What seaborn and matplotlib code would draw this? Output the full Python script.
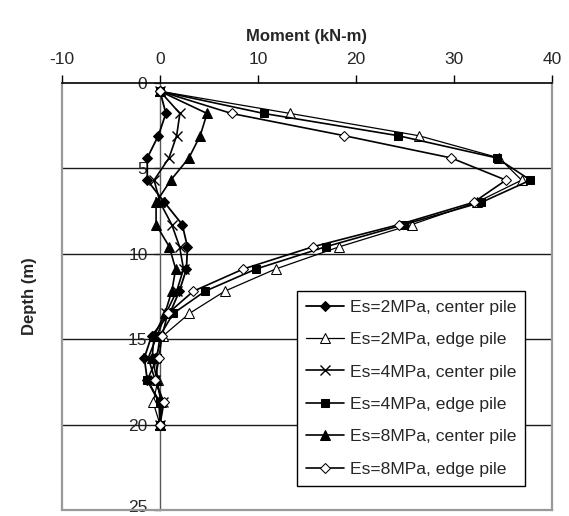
import matplotlib
matplotlib.use("Agg")
import matplotlib.pyplot as plt
import matplotlib.transforms as mtransforms
import seaborn as sns
import pandas as pd

# ---- data ----
depth = [0.5, 1.8, 3.1, 4.4, 5.7, 7.0, 8.3, 9.6, 10.9, 12.2, 13.5, 14.8, 16.1, 17.4, 18.7, 20.0]

es2_center = [0, 0.6, -0.17, -1.3, -1.3, 0.45, 2.27, 2.8, 2.7, 1.97, 1.0, -0.85, -1.6, -1.3, -0.1, 0]
es2_edge   = [0, 13.3, 26.4, 34.6, 36.9, 32.3, 25.7, 18.3, 11.8, 6.6, 3.0, 0.34, -0.5, -0.2, -0.7, 0]
es4_center = [0, 2.03, 1.7, 0.92, -0.6, 0.0, 1.2, 2.0, 2.4, 1.7, 0.6, -0.3, -1.2, -0.5, 0.3, 0]
es4_edge   = [0, 10.6, 24.3, 34.35, 37.8, 32.8, 24.9, 16.9, 9.8, 4.6, 1.35, 0.0, -0.3, -1.3, 0.0, 0]
es8_center = [0, 4.8, 4.1, 2.95, 1.1, -0.4, -0.4, 0.95, 1.6, 1.2, 0.5, -0.6, -0.8, -0.3, 0.1, 0]
es8_edge   = [0, 7.3, 18.8, 29.7, 35.3, 32.0, 24.4, 15.6, 8.5, 3.4, 0.8, 0.2, -0.1, -0.5, 0.4, 0]

labels = ["Es=2MPa, center pile", "Es=2MPa, edge pile", "Es=4MPa, center pile",
          "Es=4MPa, edge pile", "Es=8MPa, center pile", "Es=8MPa, edge pile"]
series = [es2_center, es2_edge, es4_center, es4_edge, es8_center, es8_edge]

x_ticks = [-10, 0, 10, 20, 30, 40]
y_ticks = [0, 5, 10, 15, 20, 25]

# ---- style ----
sns.set_theme(style="white")
plt.rcParams["font.family"] = ["Liberation Sans", "DejaVu Sans"]
plt.rcParams["axes.unicode_minus"] = False

fig = plt.figure(figsize=(5.69, 5.16), dpi=100)
ax = fig.add_axes([62/569, 1 - 510/516, 490/569, 427.3/516])

styles = [
    dict(marker="D", markersize=5, markerfacecolor="black", markeredgecolor="black", linewidth=1.3),
    dict(marker="^", markersize=7.5, markerfacecolor="white", markeredgecolor="black", linewidth=0.9),
    dict(marker="x", markersize=7, markerfacecolor="black", markeredgecolor="black", markeredgewidth=1.0, linewidth=1.2),
    dict(marker="s", markersize=6, markerfacecolor="black", markeredgecolor="black", linewidth=1.2),
    dict(marker="^", markersize=7, markerfacecolor="black", markeredgecolor="black", linewidth=1.2),
    dict(marker="D", markersize=5, markerfacecolor="white", markeredgecolor="black", linewidth=1.2),
]

for lab, vals, st in zip(labels, series, styles):
    df = pd.DataFrame({"Moment": vals, "Depth": depth})
    sns.lineplot(data=df, x="Moment", y="Depth", sort=False, estimator=None,
                 color="black", label=lab, ax=ax, zorder=3, **st)

# grid lines
for yv in y_ticks[1:-1]:
    ax.axhline(yv, color="0.1", lw=1.0, zorder=1)

ax.set_xlim(-10, 40)
ax.set_ylim(25, 0)
ax.set_xticks(x_ticks)
ax.set_yticks(y_ticks)

# x axis on top
ax.xaxis.tick_top()
ax.xaxis.set_label_position("top")
ax.set_xlabel("Moment (kN-m)", fontsize=12, fontweight="bold", labelpad=8)
ax.tick_params(axis="x", which="both", top=True, bottom=False, direction="out",
               length=6, width=1, color="black", labelsize=12.5, pad=5)

# y axis crossing at x = 0
ax.spines["left"].set_position(("data", 0))
ax.spines["left"].set_color("0.35")
ax.spines["left"].set_linewidth(1.0)
ax.spines["left"].set_zorder(2)
ax.tick_params(axis="y", left=True, direction="out", length=4, width=1,
               color="0.35", labelsize=12.5, pad=5)
ax.set_ylabel("")

# nudge the bottom "25" label up so it stays inside the figure
fig.canvas.draw()
last = ax.get_yticklabels()[-1]
last.set_transform(last.get_transform() +
                   mtransforms.ScaledTranslation(0, 3/72, fig.dpi_scale_trans))

ax.spines["top"].set_color("black")
ax.spines["top"].set_linewidth(1.2)
for s in ["right", "bottom"]:
    ax.spines[s].set_color("0.6")
    ax.spines[s].set_linewidth(1.6)
ax.axvline(-10, color="0.6", lw=1.6, clip_on=False, zorder=2)

ax.text(-0.066, 0.5, "Depth (m)", transform=ax.transAxes, rotation=90,
        ha="center", va="center", fontsize=12, fontweight="bold")

leg = ax.legend(loc="upper left", bbox_to_anchor=(0.48, 0.513), borderaxespad=0,
                fontsize=12.6, frameon=True, fancybox=False, framealpha=1,
                edgecolor="black", handlelength=2.2, labelspacing=0.98,
                handletextpad=0.3, borderpad=0.5)
leg.get_frame().set_linewidth(1.0)
leg.set_zorder(5)

fig.savefig("out.png", dpi=100)
